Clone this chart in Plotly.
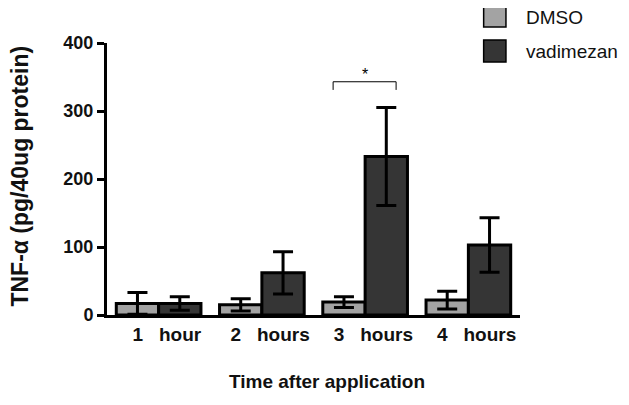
import plotly.graph_objects as go

FONT = "Arial, Liberation Sans, sans-serif"

NB = "\u00a0"
categories = [f"1{NB*3}hour", f"2{NB*3}hours", f"3{NB*3}hours", f"4{NB*3}hours"]
positions = [0, 1, 2, 3]
dmso_mean = [17, 15, 19, 22]
dmso_err = [16, 9, 8, 13]
vad_mean = [17, 62, 233, 103]
vad_err = [10, 31, 72, 40]

COLORS = {"dmso": "#a3a3a3", "vad": "#353535"}

fig = go.Figure()
for name, y, err, col in [("DMSO", dmso_mean, dmso_err, COLORS["dmso"]),
                          ("vadimezan", vad_mean, vad_err, COLORS["vad"])]:
    fig.add_trace(go.Bar(
        x=positions, y=y, name=name,
        marker=dict(color=col, line=dict(color="black", width=3)),
        error_y=dict(type="data", array=err, color="black", thickness=3, width=10),
        showlegend=False,
    ))

# significance bracket over 3 hours
fig.add_shape(type="path", xref="x", yref="y",
              path="M 1.69,331 L 1.69,343 L 2.3,343 L 2.3,331",
              line=dict(color="black", width=1))
fig.add_annotation(x=2, y=354, xref="x", yref="y", text="*", showarrow=False,
                   font=dict(size=16, color="black", family=FONT))

# custom legend
legend_items = [("DMSO", COLORS["dmso"], 1.132, 1.059), ("vadimezan", COLORS["vad"], 1.011, 0.930)]
for label, col, y1, y0 in legend_items:
    fig.add_shape(type="rect", xref="paper", yref="paper", x0=0.912, x1=0.966, y0=y0, y1=y1,
                  fillcolor=col, line=dict(color="black", width=1.5))
    fig.add_annotation(x=1.010, y=(y0 + y1) / 2, xref="paper", yref="paper", text=label,
                       showarrow=False, xanchor="left", yanchor="middle",
                       font=dict(size=19, color="#111111", family=FONT))

# axis titles
fig.add_annotation(x=0.533, y=-0.29, xref="paper", yref="paper",
                   text="<b>Time after application</b>", showarrow=False,
                   font=dict(size=19, color="#111111", family=FONT))
fig.add_annotation(x=-0.21, y=0.51, xref="paper", yref="paper", textangle=-90,
                   xanchor="center", yanchor="middle",
                   text="<b>TNF-\u03b1 (pg/40ug protein)</b>", showarrow=False,
                   font=dict(size=23, color="#111111", family=FONT))

# page body adds an 8px offset, so margins are reduced by that amount
fig.update_layout(
    width=629, height=405,
    paper_bgcolor="white", plot_bgcolor="white",
    margin=dict(l=99, r=117, t=35, b=98, autoexpand=False),
    barmode="group", bargap=0.18, bargroupgap=0,
    font=dict(family=FONT, color="#111111"),
)
fig.update_xaxes(
    showline=True, linecolor="black", linewidth=3, ticks="",
    tickvals=[p + 0.08 for p in positions], ticktext=categories,
    tickfont=dict(size=19, family=FONT, color="#111111", weight="bold"),
    range=[-0.5, 3.5], showgrid=False, zeroline=False, automargin=False,
)
fig.update_yaxes(
    showline=True, linecolor="black", linewidth=3, ticks="outside", ticklen=7, tickwidth=3,
    tickcolor="black", tickvals=[0, 100, 200, 300, 400], range=[0, 400],
    tickfont=dict(size=18, family=FONT, color="#111111", weight="bold"),
    showgrid=False, zeroline=False, automargin=False,
)

fig.write_html("out.html")
